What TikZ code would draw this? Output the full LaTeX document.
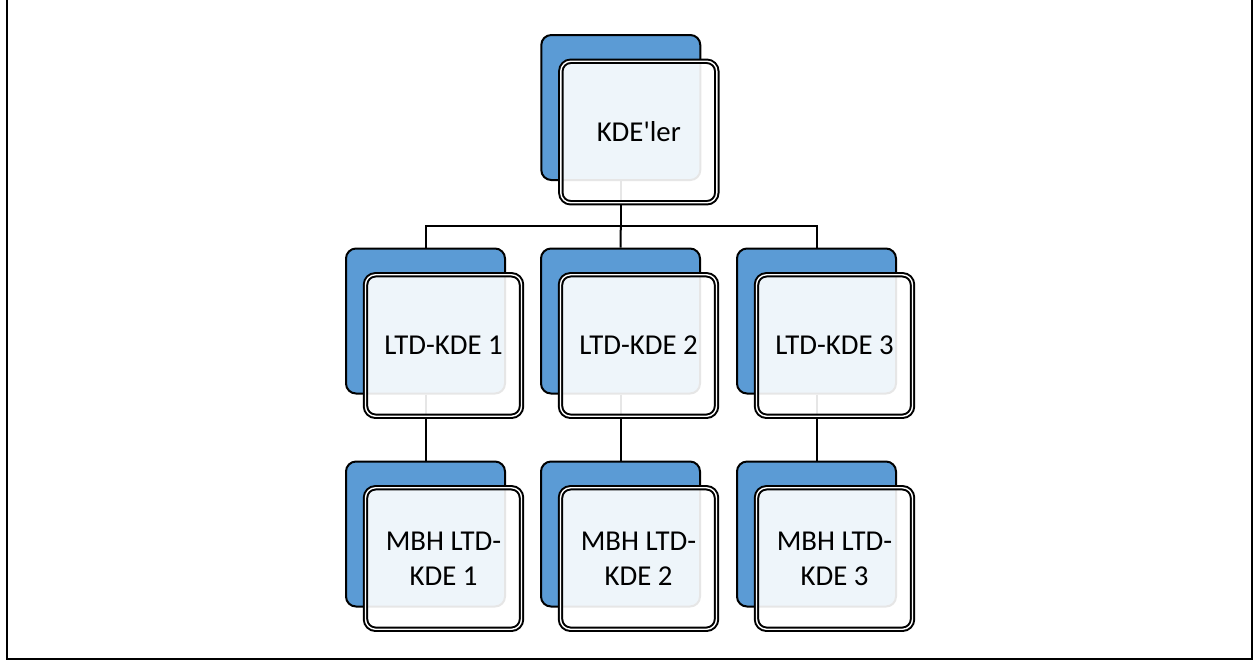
\documentclass[tikz,border=0pt]{standalone}
\usepackage{fontspec}
\setmainfont{Carlito}[Ligatures=TeXOff]
\definecolor{boxblue}{HTML}{5B9BD5}
\begin{document}
\begin{tikzpicture}[x=0.5pt,y=-0.5pt,
  back/.style={draw=black, line width=1pt, fill=boxblue, rounded corners=5pt,
    minimum width=79.5pt, minimum height=72.5pt, inner sep=0pt},
  front/.style={draw=black, double=white, line width=1pt, double distance=0.7pt,
    fill=white, fill opacity=0.9, draw opacity=1, text opacity=1, rounded corners=5pt,
    minimum width=78pt, minimum height=70.75pt, inner sep=2pt, align=center,
    font=\fontsize{14.4}{17.5}\selectfont},
  conn/.style={draw=black, line width=1pt}]
\useasboundingbox (0,0) rectangle (1258,661);
\draw[line width=1pt] (7,-10) rectangle (1252,659);
% back boxes
\node[back] (t)  at (620.8,107.5) {};
\node[back] (b1) at (425.5,321) {};
\node[back] (b2) at (620.5,321) {};
\node[back] (b3) at (816.5,321) {};
\node[back] (c1) at (425.5,534) {};
\node[back] (c2) at (620.5,534) {};
\node[back] (c3) at (816.5,534) {};
% connectors
\coordinate (j) at (620.8,226);
\draw[conn] (t.south) -- (j);
\draw[conn] (b1.north) |- (j) -| (b3.north);
\draw[conn] (j) -- (b2.north);
\draw[conn] (b1.south) -- (c1.north);
\draw[conn] (b2.south) -- (c2.north);
\draw[conn] (b3.south) -- (c3.north);
% front boxes
\node[front] (tf)  at (638.8,132) {KDE'ler};
\node[front] (b1f) at (443.5,345.5) {LTD-KDE 1};
\node[front] (b2f) at (638.5,345.5) {LTD-KDE 2};
\node[front] (b3f) at (834.5,345.5) {LTD-KDE 3};
\node[front] (c1f) at (443.5,558.5) {MBH LTD-\\KDE 1};
\node[front] (c2f) at (638.5,558.5) {MBH LTD-\\KDE 2};
\node[front] (c3f) at (834.5,558.5) {MBH LTD-\\KDE 3};
\end{tikzpicture}
\end{document}
